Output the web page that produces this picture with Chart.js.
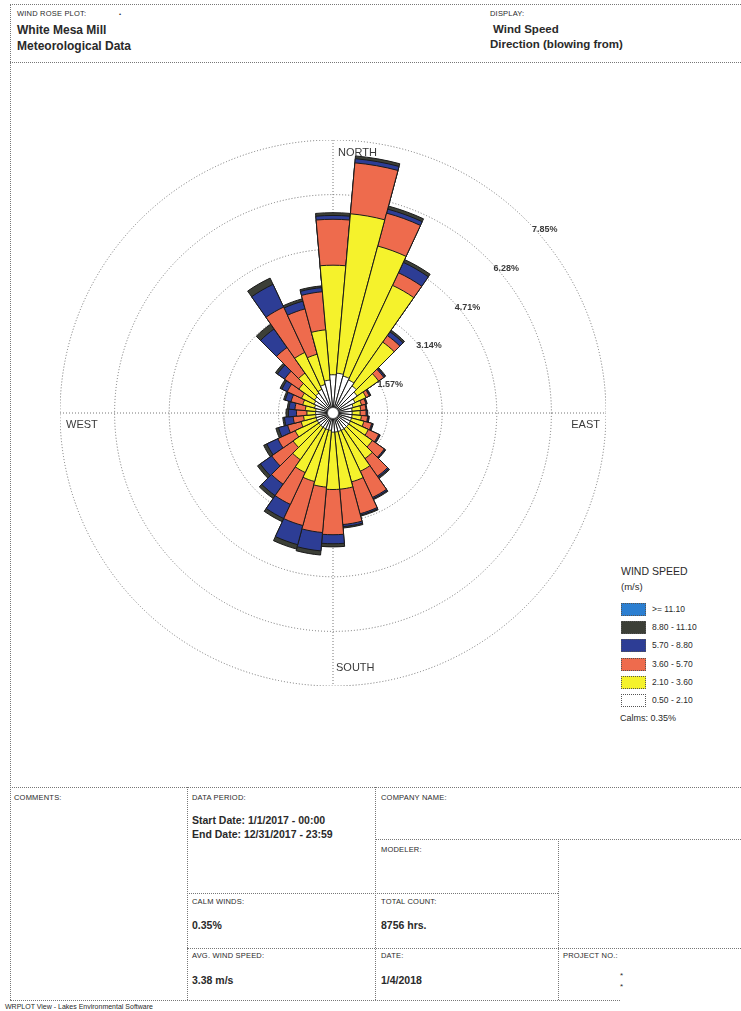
<!DOCTYPE html>
<html>
<head>
<meta charset="utf-8">
<title>Wind Rose - White Mesa Mill</title>
<script src="https://cdn.jsdelivr.net/npm/chart.js@4.4.1/dist/chart.umd.min.js"></script>
<style>
  body { margin: 0; width: 741px; height: 1011px; position: relative; overflow: hidden;
         background: #fff; color: #2a2a2a; font-family: "Liberation Sans", Arial, sans-serif; }
  .t { position: absolute; white-space: nowrap; line-height: 1; }
  .cap { font-size: 7.5px; letter-spacing: 0.2px; }
  .head { font-size: 12px; font-weight: bold; }
  .val { font-size: 10.5px; font-weight: bold; }
  .h { position: absolute; height: 0; border-top: 1px dotted #777; }
  .v { position: absolute; width: 0; border-left: 1px dotted #777; }
  #rose { position: absolute; left: 60px; top: 140px; }
  #legend { position: absolute; left: 621px; top: 566px; width: 110px; font-size: 8.5px; white-space: nowrap; line-height: 1; }
  #legend .row { position: relative; height: 18.2px; }
  #legend .box { position: absolute; left: 0; top: 0; width: 23px; height: 11px; border: 1px dotted #555; }
  #legend .lab { position: absolute; left: 31px; top: 2px; white-space: nowrap; }
</style>
</head>
<body>

<!-- page frame and header -->
<div class="h" style="left:10px; top:4px; width:731px;"></div>
<div class="h" style="left:10px; top:62px; width:731px;"></div>
<div class="v" style="left:10px; top:4px; height:996px;"></div>

<div class="t cap" style="left:17px; top:10px;">WIND ROSE PLOT:</div>
<div class="t" style="left:119px; top:11px; font-size:6px;">•</div>
<div class="t head" style="left:17px; top:24px;">White Mesa Mill</div>
<div class="t head" style="left:17px; top:40px;">Meteorological Data</div>
<div class="t cap" style="left:490px; top:10px;">DISPLAY:</div>
<div class="t head" style="left:493px; top:24px; font-size:11.5px;">Wind Speed</div>
<div class="t head" style="left:490px; top:39px; font-size:11.5px;">Direction (blowing from)</div>

<canvas id="rose" width="546" height="546"></canvas>

<div id="legend">
  <div style="font-size:10.5px; margin-bottom:5px;">WIND SPEED</div>
  <div style="font-size:9.5px; margin-bottom:12px;">(m/s)</div>
  <div id="legendRows"></div>
  <div id="calmNote" style="font-size:9px; margin-top:2px; margin-left:-1px;"></div>
</div>

<!-- information table -->
<div class="h" style="left:10px; top:787px; width:731px;"></div>
<div class="v" style="left:187px; top:787px; height:213px;"></div>
<div class="v" style="left:375px; top:787px; height:213px;"></div>
<div class="h" style="left:375px; top:839px; width:366px;"></div>
<div class="v" style="left:558px; top:839px; height:161px;"></div>
<div class="h" style="left:187px; top:893px; width:371px;"></div>
<div class="h" style="left:187px; top:948px; width:554px;"></div>
<div class="h" style="left:10px; top:1000px; width:610px;"></div>

<div class="t cap" style="left:14px; top:794px;">COMMENTS:</div>
<div class="t cap" style="left:192px; top:794px;">DATA PERIOD:</div>
<div class="t cap" style="left:381px; top:794px;">COMPANY NAME:</div>
<div class="t val" style="left:192px; top:815px;">Start Date: 1/1/2017 - 00:00</div>
<div class="t val" style="left:192px; top:829px;">End Date: 12/31/2017 - 23:59</div>
<div class="t cap" style="left:381px; top:846px;">MODELER:</div>
<div class="t cap" style="left:192px; top:898px;">CALM WINDS:</div>
<div class="t cap" style="left:381px; top:898px;">TOTAL COUNT:</div>
<div class="t val" style="left:192px; top:920px;" id="calmCell"></div>
<div class="t val" style="left:381px; top:920px;">8756 hrs.</div>
<div class="t cap" style="left:192px; top:952px;">AVG. WIND SPEED:</div>
<div class="t cap" style="left:381px; top:952px;">DATE:</div>
<div class="t cap" style="left:563px; top:952px;">PROJECT NO.:</div>
<div class="t val" style="left:192px; top:975px;">3.38 m/s</div>
<div class="t val" style="left:381px; top:975px;">1/4/2018</div>
<div class="t" style="left:620px; top:972px; font-size:8px;">*</div>
<div class="t" style="left:620px; top:983px; font-size:8px;">*</div>
<div class="t" style="left:5px; top:1003px; font-size:7px;">WRPLOT View - Lakes Environmental Software</div>

<script>
// wind direction sectors (degrees, blowing from)
const directions = [0, 10, 20, 30, 40, 50, 60, 70, 80, 90, 100, 110,
                    120, 130, 140, 150, 160, 170, 180, 190, 200, 210, 220, 230,
                    240, 250, 260, 270, 280, 290, 300, 310, 320, 330, 340, 350];

// speed classes (m/s) and their colours, slowest first
const speedClasses = ['0.50 - 2.10', '2.10 - 3.60', '3.60 - 5.70', '5.70 - 8.80', '8.80 - 11.10', '>= 11.10'];
const classColours = ['#ffffff', '#f5f22c', '#ee6b4d', '#2d3d95', '#3c3f37', '#2c7fd1'];

// frequency (% of hours) of each class per direction
const v05_21 = [1.10, 1.15, 1.10, 1.05, 0.95, 0.85, 0.70, 0.60, 0.55, 0.55, 0.55, 0.55,
                0.55, 0.55, 0.55, 0.55, 0.55, 0.55, 0.55, 0.50, 0.50, 0.50, 0.50, 0.50,
                0.50, 0.50, 0.50, 0.50, 0.50, 0.55, 0.60, 0.65, 0.70, 0.75, 0.85, 0.95];
const v21_36 = [3.15, 4.60, 3.87, 3.00, 1.54, 0.75, 0.35, 0.25, 0.25, 0.23, 0.27, 0.37,
                0.57, 0.83, 1.05, 1.30, 1.50, 1.65, 1.65, 1.64, 1.54, 1.39, 1.14, 0.90,
                0.70, 0.45, 0.35, 0.25, 0.30, 0.35, 0.40, 0.55, 0.70, 1.17, 0.90, 1.45];
const v36_57 = [1.32, 1.47, 0.98, 0.40, 0.23, 0.18, 0.10, 0.13, 0.15, 0.17, 0.18, 0.23,
                0.33, 0.42, 0.62, 0.83, 0.95, 1.02, 1.30, 1.31, 1.31, 1.01, 0.86, 0.75,
                0.55, 0.40, 0.30, 0.30, 0.30, 0.35, 0.45, 0.50, 0.90, 1.44, 1.35, 1.10];
const v57_88 = [0.11, 0.12, 0.12, 0.33, 0.13, 0.04, 0.03, 0.02, 0.02, 0.03, 0.03, 0.03,
                0.03, 0.03, 0.04, 0.04, 0.04, 0.06, 0.26, 0.53, 0.57, 0.45, 0.40, 0.40,
                0.35, 0.27, 0.25, 0.23, 0.17, 0.17, 0.17, 0.25, 0.65, 0.72, 0.23, 0.12];
const v88_111 = [0.08, 0.08, 0.09, 0.09, 0.06, 0.03, 0.02, 0.02, 0.01, 0.02, 0.02, 0.02,
                 0.02, 0.02, 0.04, 0.03, 0.03, 0.04, 0.09, 0.12, 0.13, 0.10, 0.10, 0.10,
                 0.10, 0.08, 0.05, 0.07, 0.05, 0.05, 0.06, 0.07, 0.17, 0.20, 0.07, 0.05];
const v111up = [0, 0, 0, 0, 0, 0, 0, 0, 0, 0, 0, 0,
                0, 0, 0, 0, 0, 0, 0, 0, 0, 0, 0, 0,
                0, 0, 0, 0, 0, 0, 0, 0, 0, 0, 0, 0];

const ringTicks = [1.57, 3.14, 4.71, 6.28, 7.85]; // % rings
const calmPercent = 0.35;
const compass = [
    { text: 'NORTH', deg: 0 },
    { text: 'EAST', deg: 90 },
    { text: 'SOUTH', deg: 180 },
    { text: 'WEST', deg: 270 }
];

const classValues = [v05_21, v21_36, v36_57, v57_88, v88_111, v111up];

// stacked rose: each dataset is the running total up to that class,
// slowest class first so it is painted on top of the faster ones
const running = directions.map(() => 0);
const datasets = [];
classValues.forEach((values, k) => {
    values.forEach((v, i) => { running[i] += v; });
    if (values.some(v => v > 0)) {
        datasets.push({
            label: speedClasses[k],
            data: running.map(v => +v.toFixed(2)),
            backgroundColor: classColours[k],
            borderColor: '#1a1a1a',
            borderWidth: 1
        });
    }
});

// grid cross, ring labels, compass labels and the calm circle
const roseDecor = {
    id: 'roseDecor',
    beforeDatasetsDraw(chart) {
        const ctx = chart.ctx;
        const r = chart.scales.r;
        const R = r.drawingArea;
        ctx.save();
        ctx.strokeStyle = '#777';
        ctx.lineWidth = 1;
        ctx.setLineDash([1, 2]);
        ctx.beginPath();
        ctx.moveTo(r.xCenter, r.yCenter - R);
        ctx.lineTo(r.xCenter, r.yCenter + R);
        ctx.moveTo(r.xCenter - R, r.yCenter);
        ctx.lineTo(r.xCenter + R, r.yCenter);
        ctx.stroke();
        ctx.restore();
    },
    afterDatasetsDraw(chart) {
        const ctx = chart.ctx;
        const r = chart.scales.r;
        const R = r.drawingArea;
        const cx = r.xCenter, cy = r.yCenter;
        ctx.save();

        // calm hole in the middle
        ctx.beginPath();
        ctx.arc(cx, cy, 5.5, 0, Math.PI * 2);
        ctx.fillStyle = '#fff';
        ctx.fill();
        ctx.lineWidth = 0.8;
        ctx.strokeStyle = '#555';
        ctx.stroke();

        // ring values along the north-east diagonal
        ctx.font = 'bold 9px "Liberation Sans", Arial, sans-serif';
        ctx.fillStyle = '#3a3a3a';
        ctx.textAlign = 'left';
        ctx.textBaseline = 'middle';
        ringTicks.forEach(v => {
            const d = r.getDistanceFromCenterForValue(v) * Math.SQRT1_2;
            ctx.fillText(v.toFixed(2) + '%', cx + d + 6, cy - d + 10);
        });

        // compass words just inside the outer ring
        ctx.font = '11px "Liberation Sans", Arial, sans-serif';
        compass.forEach(c => {
            if (c.deg === 0) {
                ctx.textAlign = 'left';
                ctx.fillText(c.text, cx + 5, cy - R + 13);
            } else if (c.deg === 180) {
                ctx.textAlign = 'left';
                ctx.fillText(c.text, cx + 3, cy + R - 18);
            } else if (c.deg === 90) {
                ctx.textAlign = 'right';
                ctx.fillText(c.text, cx + R - 6, cy + 12);
            } else {
                ctx.textAlign = 'left';
                ctx.fillText(c.text, cx - R + 6, cy + 12);
            }
        });
        ctx.restore();
    }
};

new Chart(document.getElementById('rose'), {
    type: 'polarArea',
    data: { labels: directions, datasets },
    options: {
        responsive: false,
        animation: false,
        layout: { padding: 0 },
        scales: {
            r: {
                min: 0,
                max: ringTicks[ringTicks.length - 1],
                startAngle: -5, // centre each 10° sector on its direction
                afterBuildTicks: scale => {
                    scale.ticks = [0, ...ringTicks].map(value => ({ value }));
                },
                ticks: { display: false },
                grid: { circular: true, color: '#707070', lineWidth: 1 },
                border: { dash: [1, 2] },
                angleLines: { display: false },
                pointLabels: { display: false }
            }
        },
        plugins: {
            legend: { display: false },
            tooltip: { enabled: false }
        }
    },
    plugins: [roseDecor]
});

// legend, fastest class on top
const rows = document.getElementById('legendRows');
for (let k = speedClasses.length - 1; k >= 0; k--) {
    const row = document.createElement('div');
    row.className = 'row';
    row.innerHTML = `<div class="box" style="background:${classColours[k]}"></div>` +
                    `<div class="lab">${speedClasses[k]}</div>`;
    rows.appendChild(row);
}
document.getElementById('calmNote').textContent = `Calms: ${calmPercent.toFixed(2)}%`;
document.getElementById('calmCell').textContent = `${calmPercent.toFixed(2)}%`;
</script>
</body>
</html>
